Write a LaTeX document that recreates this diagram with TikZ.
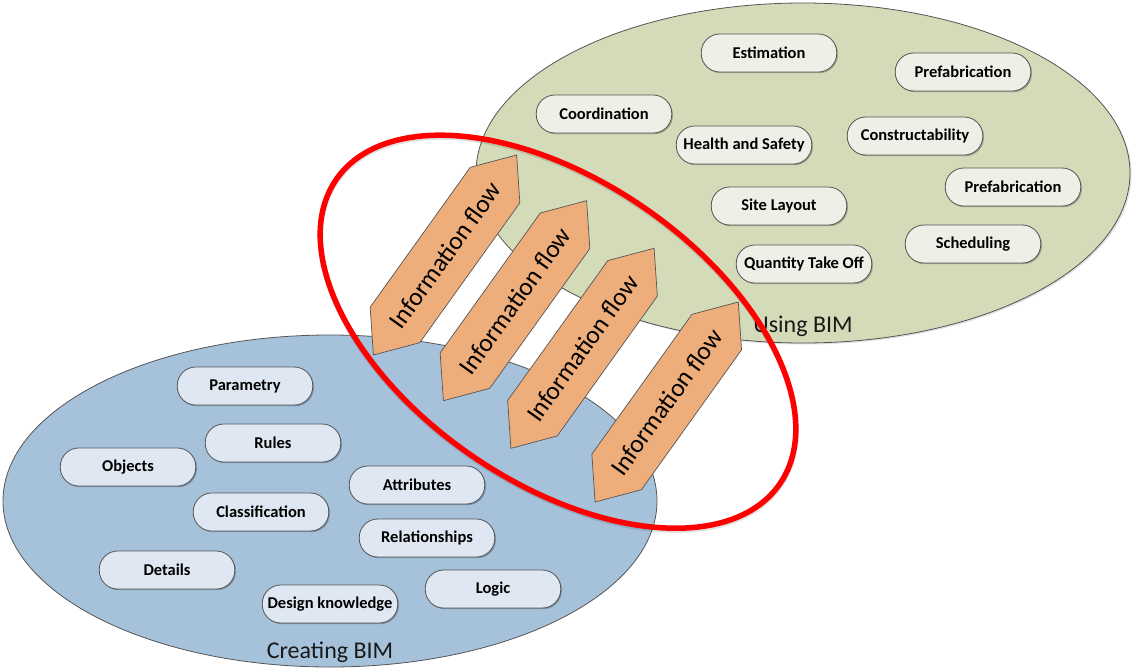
\documentclass[tikz,border=0pt]{standalone}
\usepackage{fontspec}
\setmainfont{Carlito}
\usetikzlibrary{shadows}
\definecolor{greenell}{RGB}{211,219,184}
\definecolor{blueell}{RGB}{166,194,219}
\definecolor{greenbox}{RGB}{237,240,231}
\definecolor{bluebox}{RGB}{223,232,242}
\definecolor{arrowfill}{RGB}{238,174,123}
\definecolor{edgegray}{RGB}{85,85,85}
\tikzset{
  ellstyle/.style={draw=edgegray, line width=0.8pt},
  pill/.style={draw=edgegray, line width=0.8pt, rounded corners=18.5pt,
    minimum width=135.5pt, minimum height=38pt, inner sep=0pt,
    font=\fontsize{16.5}{19}\selectfont\bfseries, text=black,
    drop shadow={shadow xshift=1.2pt, shadow yshift=-1.2pt, opacity=0.25, fill=black}},
  gpill/.style={pill, fill=greenbox},
  bpill/.style={pill, fill=bluebox},
  arrowbody/.style={draw=edgegray, line width=0.7pt, fill=arrowfill},
  flowtext/.style={font=\fontsize{25.5}{30}\selectfont, text=black, inner sep=0pt},
  setlabel/.style={font=\fontsize{24}{28}\selectfont, text=black!90, inner sep=0pt},
}
\newcommand\myflow[3]{%
  \begin{scope}[shift={(#2,#3)}, rotate=54.4]
    \draw[arrowbody] (123,0) -- (86,30.5) -- (-86,30.5) -- (-123,0) -- (-86,-30.5) -- (86,-30.5) -- cycle;
    \node[flowtext, rotate=54.4] (#1) at (0,0) {Information flow};
  \end{scope}}
\begin{document}
\begin{tikzpicture}[x=1pt,y=1pt]
\useasboundingbox (0,0) rectangle (1133,-667);
% ellipses
\fill[black, opacity=0.12] (804.5,-174.5) ellipse [x radius=327pt, y radius=170pt];
\filldraw[ellstyle, fill=greenell] (803,-173) ellipse [x radius=327pt, y radius=170pt];
\filldraw[ellstyle, fill=blueell] (330,-501) ellipse [x radius=327pt, y radius=166pt];
% green boxes
\node[gpill] (est) at (769,-53) {Estimation};
\node[gpill] (pre1) at (963,-72) {Prefabrication};
\node[gpill] (coo) at (604,-114) {Coordination};
\node[gpill] (hs) at (744,-145) {Health and Safety};
\node[gpill] (con) at (915,-136) {Constructability};
\node[gpill] (pre2) at (1013,-187) {Prefabrication};
\node[gpill] (site) at (779,-206) {Site Layout};
\node[gpill] (sch) at (973,-244) {Scheduling};
\node[gpill] (qto) at (804,-264) {Quantity Take Off};
% blue boxes
\node[bpill] (par) at (245,-386) {Parametry};
\node[bpill] (rul) at (273,-443) {Rules};
\node[bpill] (obj) at (128,-467) {Objects};
\node[bpill] (att) at (417,-485) {Attributes};
\node[bpill] (cla) at (261,-512) {Classification};
\node[bpill] (rel) at (427,-538) {Relationships};
\node[bpill] (det) at (167,-570) {Details};
\node[bpill] (dk) at (330,-604) {Design knowledge};
\node[bpill] (log) at (493,-589) {Logic};
% labels
\node[setlabel] (using) at (803,-326) {Using BIM};
\node[setlabel] (creating) at (330,-652) {Creating BIM};
% arrows
\myflow{f1}{445}{-255}
\myflow{f2}{515}{-300.7}
\myflow{f3}{582.5}{-348.3}
\myflow{f4}{666.7}{-402}
% red ellipse
\begin{scope}[shift={(558,-331.7)}, rotate=-34.4]
  \draw[black, opacity=0.12, line width=5.5pt] (1.2,-1.5) ellipse [x radius=269pt, y radius=151pt];
  \draw[red, line width=5.5pt] (0,0) ellipse [x radius=269pt, y radius=151pt];
\end{scope}
\end{tikzpicture}
\end{document}
